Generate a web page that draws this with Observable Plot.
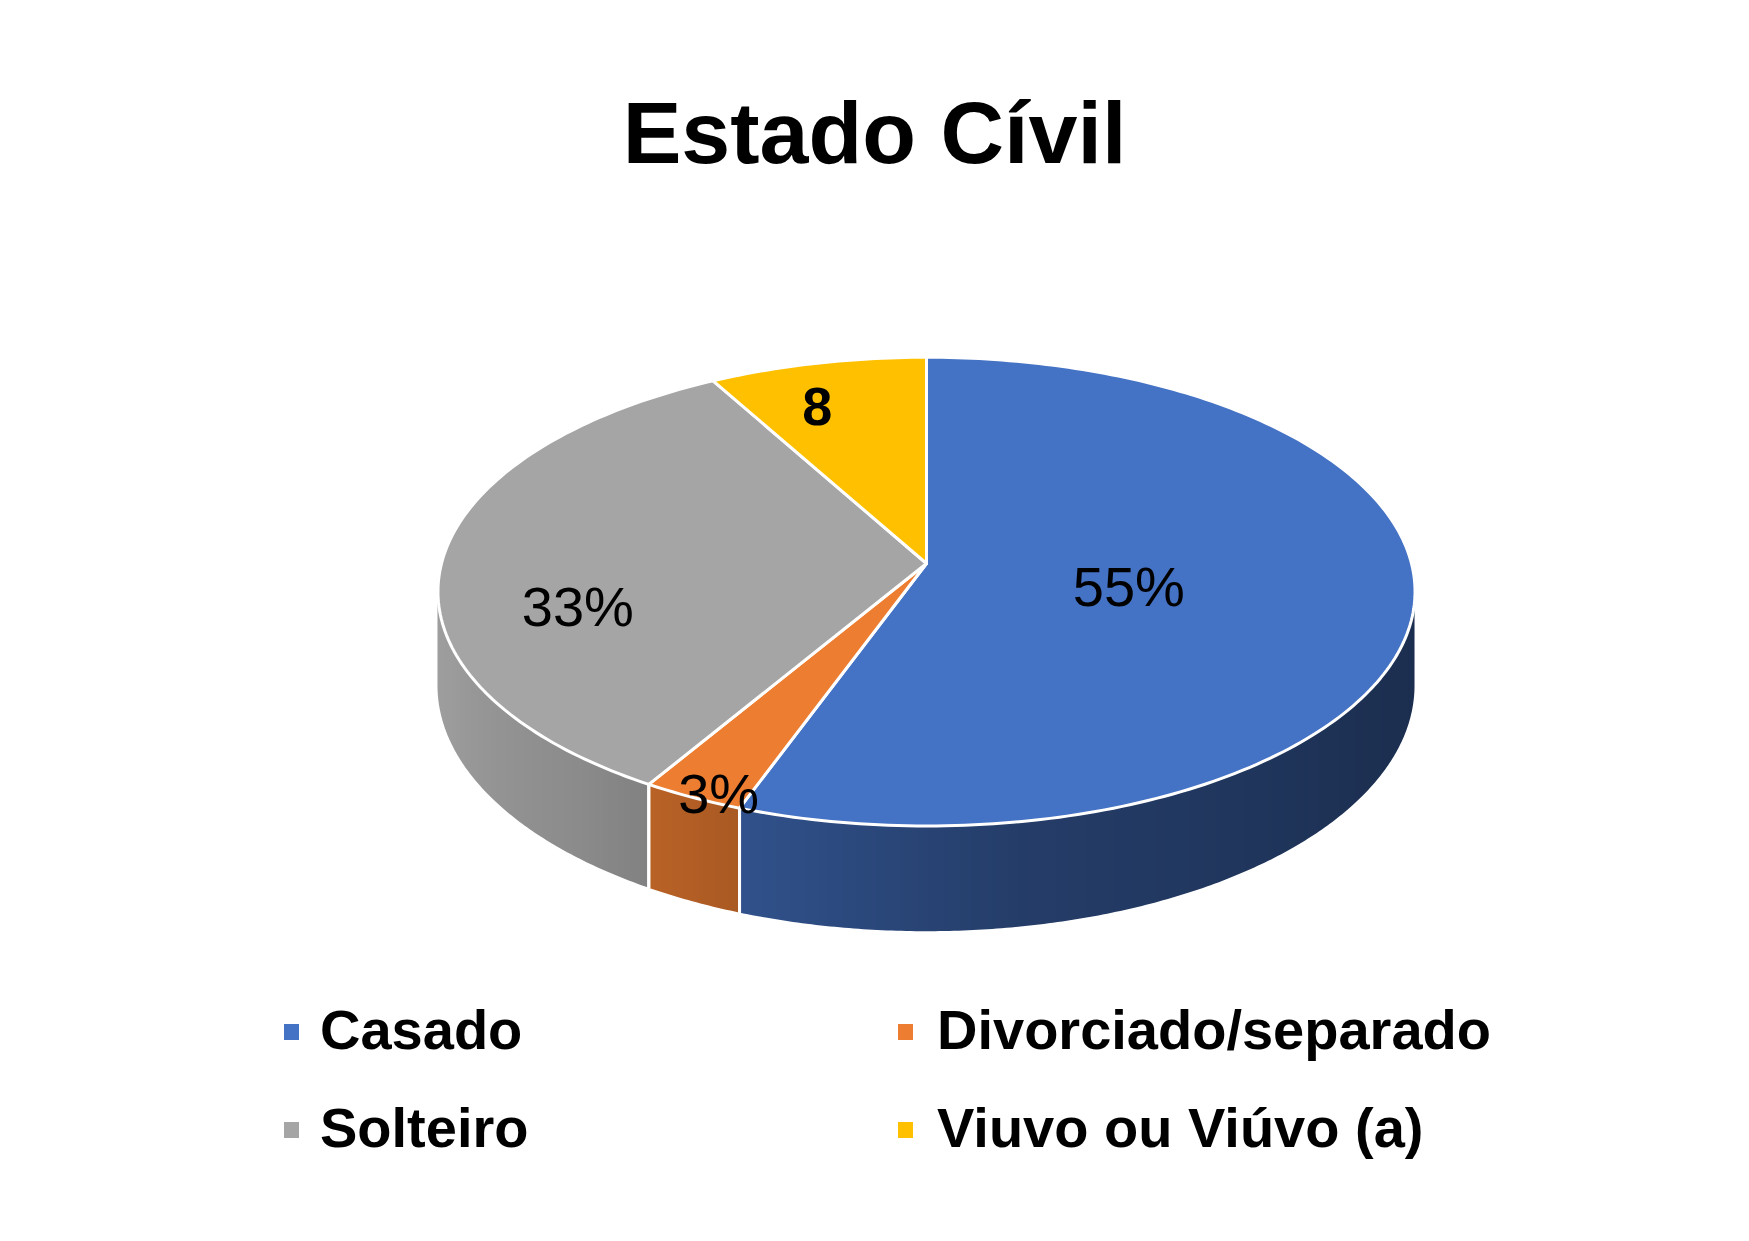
<!DOCTYPE html>
<html><head><meta charset="utf-8">
<script src="https://cdn.jsdelivr.net/npm/d3@7"></script>
<script src="https://cdn.jsdelivr.net/npm/@observablehq/plot@0.6"></script>
<style>
body{margin:0;background:#fff;font-family:"Liberation Sans",Arial,sans-serif;}
#wrap{position:relative;width:1749px;height:1241px;overflow:hidden;background:#fff;}
#title{position:absolute;left:0;top:89px;width:1749px;text-align:center;font-size:88px;line-height:88px;font-weight:bold;color:#000;}
#chart{position:absolute;left:0;top:200px;}
.lg-mark{position:absolute;width:15px;height:16px;}
.lg-text{position:absolute;font-size:56px;line-height:56px;font-weight:bold;color:#000;white-space:nowrap;}
</style></head><body>
<div id="wrap">
  <div id="title">Estado Cívil</div>
  <div id="chart"></div>
  <div id="legend"></div>
</div>
<script>
// ---- data ----
const categories = ["Casado", "Divorciado/separado", "Solteiro", "Viuvo ou Viúvo (a)"];
const values = [55, 3, 33, 8];
const labels = ["55%", "3%", "33%", "8"];
const colors = ["#4472C4", "#ED7D31", "#A5A5A5", "#FFC000"];

// ---- layout (pixels / style) ----
const W = 1749, H = 780;
const CX = 926, CY = 363, RX = 485, RY = 231;
const K = 0.12;            // perspective strength
const DEPTH = 93 / RY;     // pie thickness in y units
const labelRadius = [0.42, 0.9, 0.72, 1.0];
const labelDrop = [0.08, 0.23, 0.51, 0.53];
const labelBold = [false, false, false, true];
const shade = d3.scaleLinear()
  .domain([96, 122, 170, 196, 220, 250, 264])
  .range([0.40, 0.42, 0.53, 0.69, 0.84, 0.945, 0.96]).clamp(true);

function proj(r, deg, drop = 0) {
  const a = deg * Math.PI / 180;
  const u = r * Math.sin(a), v = -r * Math.cos(a);
  const w = 1 - v * K;
  return {X: u / w, Y: (v + drop * DEPTH) / w};
}
function darken(c, f) {
  const o = d3.rgb(c);
  return d3.rgb(o.r * f, o.g * f, o.b * f).formatHex();
}
const xDomain = [-CX / RX, (W - CX) / RX];
const yDomain = [-CY / RY, (H - CY) / RY];
const xpx = d3.scaleLinear().domain(xDomain).range([0, W]);

const total = d3.sum(values);
let acc = 0;
const slices = categories.map((name, i) => {
  const start = acc / total * 360;
  acc += values[i];
  const end = acc / total * 360;
  return {name, i, start, end, mid: (start + end) / 2, color: colors[i]};
});

// top faces
const topPts = [];
for (const s of slices) {
  const c = proj(0, 0);
  topPts.push({key: s.name, x: c.X, y: c.Y, fill: s.color});
  const n = Math.max(2, Math.ceil(s.end - s.start));
  for (let j = 0; j <= n; j++) {
    const p = proj(1, s.start + (s.end - s.start) * j / n);
    topPts.push({key: s.name, x: p.X, y: p.Y, fill: s.color});
  }
}

// front walls (visible between silhouette angles)
const A0 = Math.acos(-K) * 180 / Math.PI, A1 = 360 - A0;
const walls = [];
const wallEdges = [];
for (const s of slices) {
  const lo = Math.max(s.start, A0), hi = Math.min(s.end, A1);
  if (lo >= hi) continue;
  const n = Math.max(2, Math.ceil((hi - lo) * 2));
  const pts = [], stops = [];
  for (let j = 0; j <= n; j++) {
    const t = lo + (hi - lo) * j / n;
    const a = proj(1, t), b = proj(1, t, 1);
    pts.push({x: a.X, y1: a.Y, y2: b.Y});
    stops.push({offset: xpx(a.X) / W, color: darken(s.color, shade(t))});
  }
  stops.sort((p, q) => p.offset - q.offset);
  walls.push({id: "wallgrad" + s.i, pts, stops});
  for (const t of [s.start, s.end]) {
    if (t > A0 && t < A1) {
      const a = proj(1, t), b = proj(1, t, 1);
      wallEdges.push({x1: a.X, y1: a.Y, x2: b.X, y2: b.Y});
    }
  }
}

// gradient definitions for the wall shading
function wallDefs() {
  const defs = d3.create("svg:defs");
  for (const w of walls) {
    const g = defs.append("linearGradient").attr("id", w.id)
      .attr("gradientUnits", "userSpaceOnUse")
      .attr("x1", 0).attr("y1", 0).attr("x2", W).attr("y2", 0);
    for (const st of w.stops) g.append("stop").attr("offset", st.offset).attr("stop-color", st.color);
  }
  return defs.node();
}

// labels
const labelPts = slices.map(s => {
  const p = proj(labelRadius[s.i], s.mid, labelDrop[s.i]);
  return {x: p.X, y: p.Y, text: labels[s.i], bold: labelBold[s.i]};
});

const chart = Plot.plot({
  width: W, height: H,
  margin: 0,
  style: {background: "transparent", overflow: "visible"},
  x: {domain: xDomain, range: [0, W], axis: null},
  y: {domain: yDomain, range: [0, H], axis: null},
  color: {type: "identity"},
  marks: [
    wallDefs,
    ...walls.map(w => Plot.areaY(w.pts, {x: "x", y1: "y1", y2: "y2", fill: `url(#${w.id})`})),
    Plot.link(wallEdges, {x1: "x1", y1: "y1", x2: "x2", y2: "y2", stroke: "white", strokeWidth: 3}),
    Plot.line(topPts, {x: "x", y: "y", z: "key", fill: "fill", stroke: "white", strokeWidth: 3,
      curve: "linear-closed", strokeLinejoin: "round"}),
    Plot.text(labelPts.filter(d => !d.bold), {x: "x", y: "y", text: "text", fontSize: 56,
      fontFamily: "Liberation Sans, Arial, sans-serif", fill: "black"}),
    Plot.text(labelPts.filter(d => d.bold), {x: "x", y: "y", text: "text", fontSize: 54, fontWeight: "bold",
      fontFamily: "Liberation Sans, Arial, sans-serif", fill: "black"})
  ]
});
document.getElementById("chart").appendChild(chart);

// legend (2 columns, row-major)
const legend = document.getElementById("legend");
const colMark = [284, 898], colText = [320, 937], rowTop = [1002, 1100], rowMark = [1024, 1122];
categories.forEach((name, i) => {
  const c = i % 2, r = Math.floor(i / 2);
  const m = document.createElement("div");
  m.className = "lg-mark";
  m.style.left = colMark[c] + "px"; m.style.top = rowMark[r] + "px"; m.style.background = colors[i];
  legend.appendChild(m);
  const t = document.createElement("div");
  t.className = "lg-text";
  t.style.left = colText[c] + "px"; t.style.top = rowTop[r] + "px";
  t.textContent = name;
  legend.appendChild(t);
});
</script>
</body></html>
